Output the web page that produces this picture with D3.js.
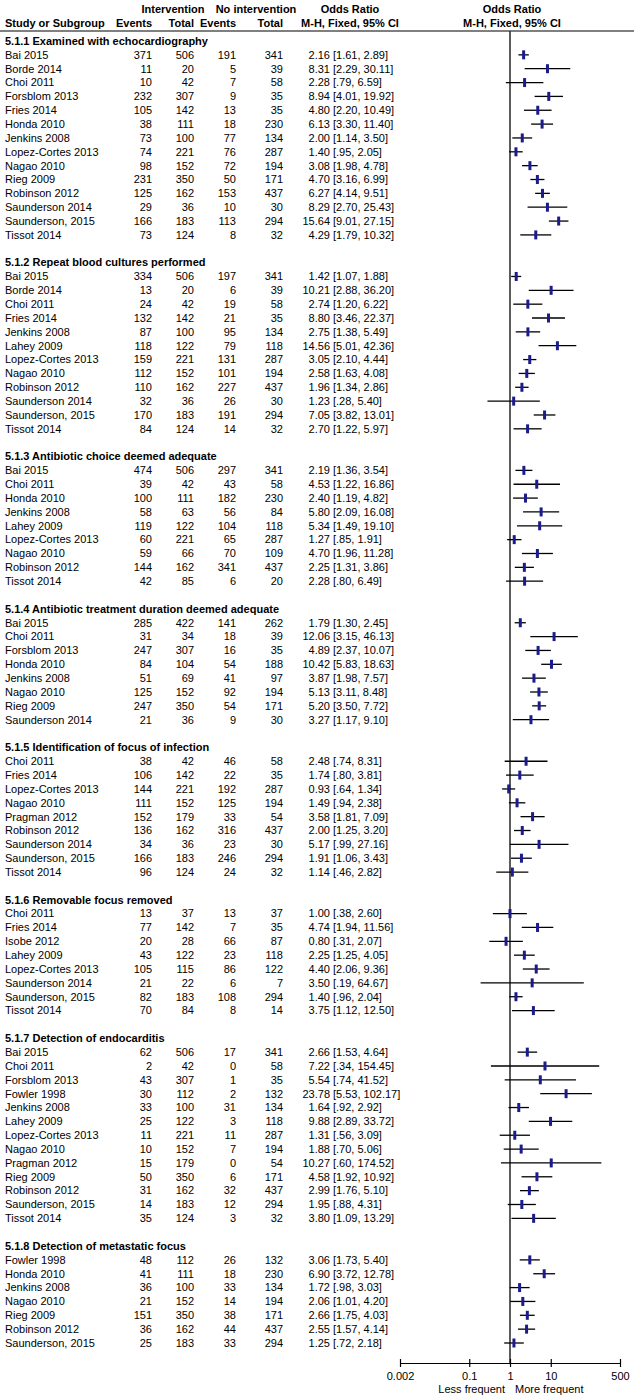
<!DOCTYPE html>
<html>
<head>
<meta charset="utf-8">
<script src="https://cdn.jsdelivr.net/npm/d3@7"></script>
<style>
  body { margin: 0; background: #fff; }
  svg text { font-family: "Liberation Sans", Arial, sans-serif; font-size: 11px; fill: #000; }
  .bold { font-weight: bold; }
</style>
</head>
<body>
<div id="chart"></div>
<script>

var groups = [
  "5.1.1 Examined with echocardiography",
  "5.1.2 Repeat blood cultures performed",
  "5.1.3 Antibiotic choice deemed adequate",
  "5.1.4 Antibiotic treatment duration deemed adequate",
  "5.1.5 Identification of focus of infection",
  "5.1.6 Removable focus removed",
  "5.1.7 Detection of endocarditis",
  "5.1.8 Detection of metastatic focus"
];
var groupSizes = [14, 12, 9, 8, 9, 8, 13, 7];

var studies = [
  "Bai 2015", "Borde 2014", "Choi 2011", "Forsblom 2013", "Fries 2014", "Honda 2010", "Jenkins 2008",
  "Lopez-Cortes 2013", "Nagao 2010", "Rieg 2009", "Robinson 2012", "Saunderson 2014", "Saunderson, 2015", "Tissot 2014",
  "Bai 2015", "Borde 2014", "Choi 2011", "Fries 2014", "Jenkins 2008", "Lahey 2009", "Lopez-Cortes 2013",
  "Nagao 2010", "Robinson 2012", "Saunderson 2014", "Saunderson, 2015", "Tissot 2014",
  "Bai 2015", "Choi 2011", "Honda 2010", "Jenkins 2008", "Lahey 2009", "Lopez-Cortes 2013", "Nagao 2010",
  "Robinson 2012", "Tissot 2014",
  "Bai 2015", "Choi 2011", "Forsblom 2013", "Honda 2010", "Jenkins 2008", "Nagao 2010", "Rieg 2009", "Saunderson 2014",
  "Choi 2011", "Fries 2014", "Lopez-Cortes 2013", "Nagao 2010", "Pragman 2012", "Robinson 2012", "Saunderson 2014",
  "Saunderson, 2015", "Tissot 2014",
  "Choi 2011", "Fries 2014", "Isobe 2012", "Lahey 2009", "Lopez-Cortes 2013", "Saunderson 2014", "Saunderson, 2015",
  "Tissot 2014",
  "Bai 2015", "Choi 2011", "Forsblom 2013", "Fowler 1998", "Jenkins 2008", "Lahey 2009", "Lopez-Cortes 2013",
  "Nagao 2010", "Pragman 2012", "Rieg 2009", "Robinson 2012", "Saunderson, 2015", "Tissot 2014",
  "Fowler 1998", "Honda 2010", "Jenkins 2008", "Nagao 2010", "Rieg 2009", "Robinson 2012", "Saunderson, 2015"
];

var eventsInt = [371, 11, 10, 232, 105, 38, 73, 74, 98, 231, 125, 29, 166, 73,
  334, 13, 24, 132, 87, 118, 159, 112, 110, 32, 170, 84,
  474, 39, 100, 58, 119, 60, 59, 144, 42,
  285, 31, 247, 84, 51, 125, 247, 21,
  38, 106, 144, 111, 152, 136, 34, 166, 96,
  13, 77, 20, 43, 105, 21, 82, 70,
  62, 2, 43, 30, 33, 25, 11, 10, 15, 50, 31, 14, 35,
  48, 41, 36, 21, 151, 36, 25];
var totalInt = [506, 20, 42, 307, 142, 111, 100, 221, 152, 350, 162, 36, 183, 124,
  506, 20, 42, 142, 100, 122, 221, 152, 162, 36, 183, 124,
  506, 42, 111, 63, 122, 221, 66, 162, 85,
  422, 34, 307, 104, 69, 152, 350, 36,
  42, 142, 221, 152, 179, 162, 36, 183, 124,
  37, 142, 28, 122, 115, 22, 183, 84,
  506, 42, 307, 112, 100, 122, 221, 152, 179, 350, 162, 183, 124,
  112, 111, 100, 152, 350, 162, 183];
var eventsNo = [191, 5, 7, 9, 13, 18, 77, 76, 72, 50, 153, 10, 113, 8,
  197, 6, 19, 21, 95, 79, 131, 101, 227, 26, 191, 14,
  297, 43, 182, 56, 104, 65, 70, 341, 6,
  141, 18, 16, 54, 41, 92, 54, 9,
  46, 22, 192, 125, 33, 316, 23, 246, 24,
  13, 7, 66, 23, 86, 6, 108, 8,
  17, 0, 1, 2, 31, 3, 11, 7, 0, 6, 32, 12, 3,
  26, 18, 33, 14, 38, 44, 33];
var totalNo = [341, 39, 58, 35, 35, 230, 134, 287, 194, 171, 437, 30, 294, 32,
  341, 39, 58, 35, 134, 118, 287, 194, 437, 30, 294, 32,
  341, 58, 230, 84, 118, 287, 109, 437, 20,
  262, 39, 35, 188, 97, 194, 171, 30,
  58, 35, 287, 194, 54, 437, 30, 294, 32,
  37, 35, 87, 118, 122, 7, 294, 14,
  341, 58, 35, 132, 134, 118, 287, 194, 54, 171, 437, 294, 32,
  132, 230, 134, 194, 171, 437, 294];

var oddsRatio = [2.16, 8.31, 2.28, 8.94, 4.80, 6.13, 2.00, 1.40, 3.08, 4.70, 6.27, 8.29, 15.64, 4.29,
  1.42, 10.21, 2.74, 8.80, 2.75, 14.56, 3.05, 2.58, 1.96, 1.23, 7.05, 2.70,
  2.19, 4.53, 2.40, 5.80, 5.34, 1.27, 4.70, 2.25, 2.28,
  1.79, 12.06, 4.89, 10.42, 3.87, 5.13, 5.20, 3.27,
  2.48, 1.74, 0.93, 1.49, 3.58, 2.00, 5.17, 1.91, 1.14,
  1.00, 4.74, 0.80, 2.25, 4.40, 3.50, 1.40, 3.75,
  2.66, 7.22, 5.54, 23.78, 1.64, 9.88, 1.31, 1.88, 10.27, 4.58, 2.99, 1.95, 3.80,
  3.06, 6.90, 1.72, 2.06, 2.66, 2.55, 1.25];
var ciLow = [1.61, 2.29, .79, 4.01, 2.20, 3.30, 1.14, .95, 1.98, 3.16, 4.14, 2.70, 9.01, 1.79,
  1.07, 2.88, 1.20, 3.46, 1.38, 5.01, 2.10, 1.63, 1.34, .28, 3.82, 1.22,
  1.36, 1.22, 1.19, 2.09, 1.49, .85, 1.96, 1.31, .80,
  1.30, 3.15, 2.37, 5.83, 1.98, 3.11, 3.50, 1.17,
  .74, .80, .64, .94, 1.81, 1.25, .99, 1.06, .46,
  .38, 1.94, .31, 1.25, 2.06, .19, .96, 1.12,
  1.53, .34, .74, 5.53, .92, 2.89, .56, .70, .60, 1.92, 1.76, .88, 1.09,
  1.73, 3.72, .98, 1.01, 1.75, 1.57, .72];
var ciHigh = [2.89, 30.11, 6.59, 19.92, 10.49, 11.40, 3.50, 2.05, 4.78, 6.99, 9.51, 25.43, 27.15, 10.32,
  1.88, 36.20, 6.22, 22.37, 5.49, 42.36, 4.44, 4.08, 2.86, 5.40, 13.01, 5.97,
  3.54, 16.86, 4.82, 16.08, 19.10, 1.91, 11.28, 3.86, 6.49,
  2.45, 46.13, 10.07, 18.63, 7.57, 8.48, 7.72, 9.10,
  8.31, 3.81, 1.34, 2.38, 7.09, 3.20, 27.16, 3.43, 2.82,
  2.60, 11.56, 2.07, 4.05, 9.36, 64.67, 2.04, 12.50,
  4.64, 154.45, 41.52, 102.17, 2.92, 33.72, 3.09, 5.06, 174.52, 10.92, 5.10, 4.31, 13.29,
  5.40, 12.78, 3.03, 4.20, 4.03, 4.14, 2.18];

var axisTicks = [0.002, 0.1, 1, 10, 500];

// build row list: group header, studies, blank line between groups
var rows = [], k = 0;
groups.forEach(function(g, gi) {
  rows.push({type: "group", label: g});
  for (var j = 0; j < groupSizes[gi]; j++, k++) {
    rows.push({
      type: "study", name: studies[k],
      e1: eventsInt[k], t1: totalInt[k], e2: eventsNo[k], t2: totalNo[k],
      or: oddsRatio[k], lo: ciLow[k], hi: ciHigh[k]
    });
  }
  if (gi < groups.length - 1) rows.push({type: "blank"});
});
rows.forEach(function(r, i) { r.i = i; });

var width = 634, height = 1397;

var y = d3.scaleLinear()
    .domain([0, rows.length - 1])
    .range([41, 1343]);

var x = d3.scaleLog()
    .domain([0.002, 500])
    .range([400, 620]);

var col = {name: 5, e1: 152, t1: 194, e2: 236, t2: 283, or: 330};
var axisY = 1363, ruleY = 31;

function fmtCi(v) {
  var s = v.toFixed(2);
  return v < 1 ? s.slice(1) : s;
}

var svg = d3.select("#chart").append("svg")
    .attr("width", width)
    .attr("height", height);

// column headers
var head = svg.append("g").attr("class", "bold");
[
  {t: "Intervention", x: 173, y: 9, a: "middle"},
  {t: "No intervention", x: 256, y: 9, a: "middle"},
  {t: "Odds Ratio", x: 350, y: 9, a: "middle"},
  {t: "Odds Ratio", x: 512, y: 9, a: "middle"},
  {t: "Study or Subgroup", x: col.name, y: 23, a: "start"},
  {t: "Events", x: col.e1, y: 23, a: "end"},
  {t: "Total", x: col.t1, y: 23, a: "end"},
  {t: "Events", x: col.e2, y: 23, a: "end"},
  {t: "Total", x: col.t2, y: 23, a: "end"},
  {t: "M-H, Fixed, 95% CI", x: 350, y: 23, a: "middle"},
  {t: "M-H, Fixed, 95% CI", x: 512, y: 23, a: "middle"}
].forEach(function(h) {
  head.append("text")
      .attr("x", h.x)
      .attr("y", h.y)
      .attr("dy", "0.35em")
      .style("text-anchor", h.a)
      .text(h.t);
});

svg.append("line")
    .attr("x1", 0).attr("x2", width)
    .attr("y1", ruleY).attr("y2", ruleY)
    .attr("stroke", "#000")
    .attr("stroke-width", 1.2);

// line of no effect
svg.append("line")
    .attr("x1", x(1)).attr("x2", x(1))
    .attr("y1", ruleY).attr("y2", axisY)
    .attr("stroke", "#333")
    .attr("stroke-width", 1.6);

svg.append("g").selectAll("text")
    .data(rows.filter(function(r) { return r.type == "group"; }))
  .enter().append("text")
    .attr("class", "bold")
    .attr("x", col.name)
    .attr("y", function(d) { return y(d.i); })
    .attr("dy", "0.35em")
    .text(function(d) { return d.label; });

var studyRows = rows.filter(function(r) { return r.type == "study"; });

var row = svg.append("g").selectAll(".row")
    .data(studyRows)
  .enter().append("g")
    .attr("class", "row")
    .attr("transform", function(d) { return "translate(0," + y(d.i) + ")"; });

row.append("text").attr("x", col.name).attr("dy", "0.35em").text(function(d) { return d.name; });
row.append("text").attr("x", col.e1).attr("dy", "0.35em").style("text-anchor", "end").text(function(d) { return d.e1; });
row.append("text").attr("x", col.t1).attr("dy", "0.35em").style("text-anchor", "end").text(function(d) { return d.t1; });
row.append("text").attr("x", col.e2).attr("dy", "0.35em").style("text-anchor", "end").text(function(d) { return d.e2; });
row.append("text").attr("x", col.t2).attr("dy", "0.35em").style("text-anchor", "end").text(function(d) { return d.t2; });
row.append("text").attr("x", col.or).attr("dy", "0.35em").style("text-anchor", "end")
    .text(function(d) { return d.or.toFixed(2); });
row.append("text").attr("x", col.or + 3).attr("dy", "0.35em")
    .text(function(d) { return "[" + fmtCi(d.lo) + ", " + fmtCi(d.hi) + "]"; });

// confidence intervals and point estimates
row.append("line")
    .attr("x1", function(d) { return x(d.lo); })
    .attr("x2", function(d) { return x(d.hi); })
    .attr("stroke", "#000")
    .attr("stroke-width", 1.3);

row.append("rect")
    .attr("x", function(d) { return x(d.or) - 1.5; })
    .attr("y", -4.5)
    .attr("width", 3)
    .attr("height", 9)
    .attr("fill", "#1b1b8c");

// axis
var axis = d3.axisBottom(x)
    .tickValues(axisTicks)
    .tickFormat(function(d) { return String(d); })
    .tickSizeInner(4)
    .tickSizeOuter(0)
    .tickPadding(5);

var gAxis = svg.append("g")
    .attr("transform", "translate(0," + axisY + ")")
    .call(axis);

gAxis.select(".domain").attr("stroke", "#000").attr("stroke-width", 1.2);
gAxis.selectAll(".tick line").attr("y1", -4).attr("y2", 4).attr("stroke-width", 1.2);
gAxis.selectAll(".tick text")
    .attr("font-family", null)
    .attr("font-size", null)
    .style("fill", "#000");

svg.append("text")
    .attr("x", x(1) - 5)
    .attr("y", 1389)
    .attr("dy", "0.35em")
    .style("text-anchor", "end")
    .text("Less frequent");

svg.append("text")
    .attr("x", x(1) + 5)
    .attr("y", 1389)
    .attr("dy", "0.35em")
    .text("More frequent");

</script>
</body>
</html>
